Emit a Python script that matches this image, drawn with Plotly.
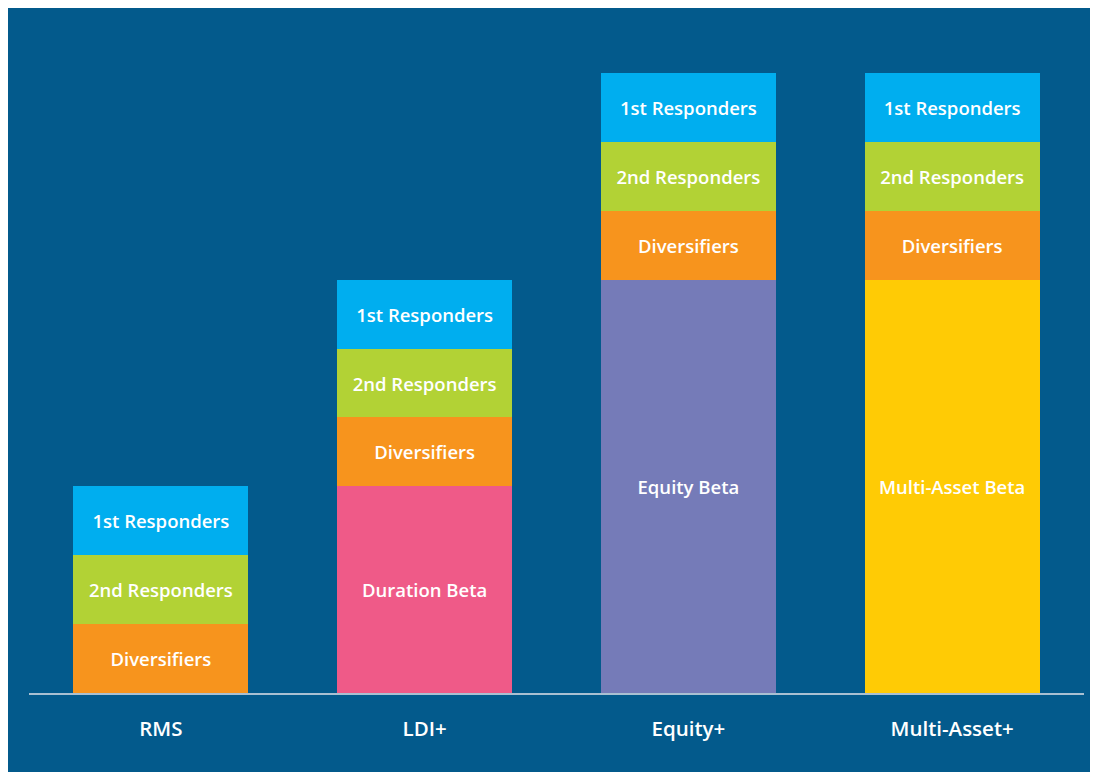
import plotly.graph_objects as go

# strategy categories (x axis)
categories = ["RMS", "LDI+", "Equity+", "Multi-Asset+"]

# stacked segments, bottom to top (units)
beta_values = [0, 3, 6, 6]
beta_labels = ["", "Duration Beta", "Equity Beta", "Multi-Asset Beta"]
diversifiers = [1, 1, 1, 1]
second_responders = [1, 1, 1, 1]
first_responders = [1, 1, 1, 1]

BG = "#035a8c"
beta_colors = ["#ef5a88", "#ef5a88", "#757bb8", "#ffcb05"]

FONT = "Open Sans, Lato, sans-serif"
label_font = dict(family=FONT, size=18.5, color="white", weight=600)

fig = go.Figure()

fig.add_trace(go.Bar(x=categories, y=beta_values, text=beta_labels,
                     marker_color=beta_colors, name="Beta"))
fig.add_trace(go.Bar(x=categories, y=diversifiers,
                     text=["Diversifiers"] * len(categories),
                     marker_color="#f7941d", name="Diversifiers"))
fig.add_trace(go.Bar(x=categories, y=second_responders,
                     text=["2nd Responders"] * len(categories),
                     marker_color="#b2d235", name="2nd Responders"))
fig.add_trace(go.Bar(x=categories, y=first_responders,
                     text=["1st Responders"] * len(categories),
                     marker_color="#00aeef", name="1st Responders"))

fig.update_traces(textposition="inside", insidetextanchor="middle",
                  textfont=label_font, marker_line_width=0,
                  constraintext="none", hoverinfo="skip")

fig.update_layout(
    width=1106, height=772,
    barmode="stack", bargap=0.337,
    showlegend=False,
    paper_bgcolor=BG, plot_bgcolor=BG,
    margin=dict(l=21, r=30, t=65, b=87),
    font=dict(family=FONT, color="white"),
)
fig.update_xaxes(showgrid=False, showline=True, linecolor="#a9c0d2",
                 linewidth=2, ticks="outside", ticklen=16,
                 tickcolor="rgba(0,0,0,0)",
                 tickfont=dict(family=FONT, size=20.5, color="white", weight=600))
fig.update_yaxes(range=[0, 9], visible=False, showgrid=False)

fig.write_html("out.html")
